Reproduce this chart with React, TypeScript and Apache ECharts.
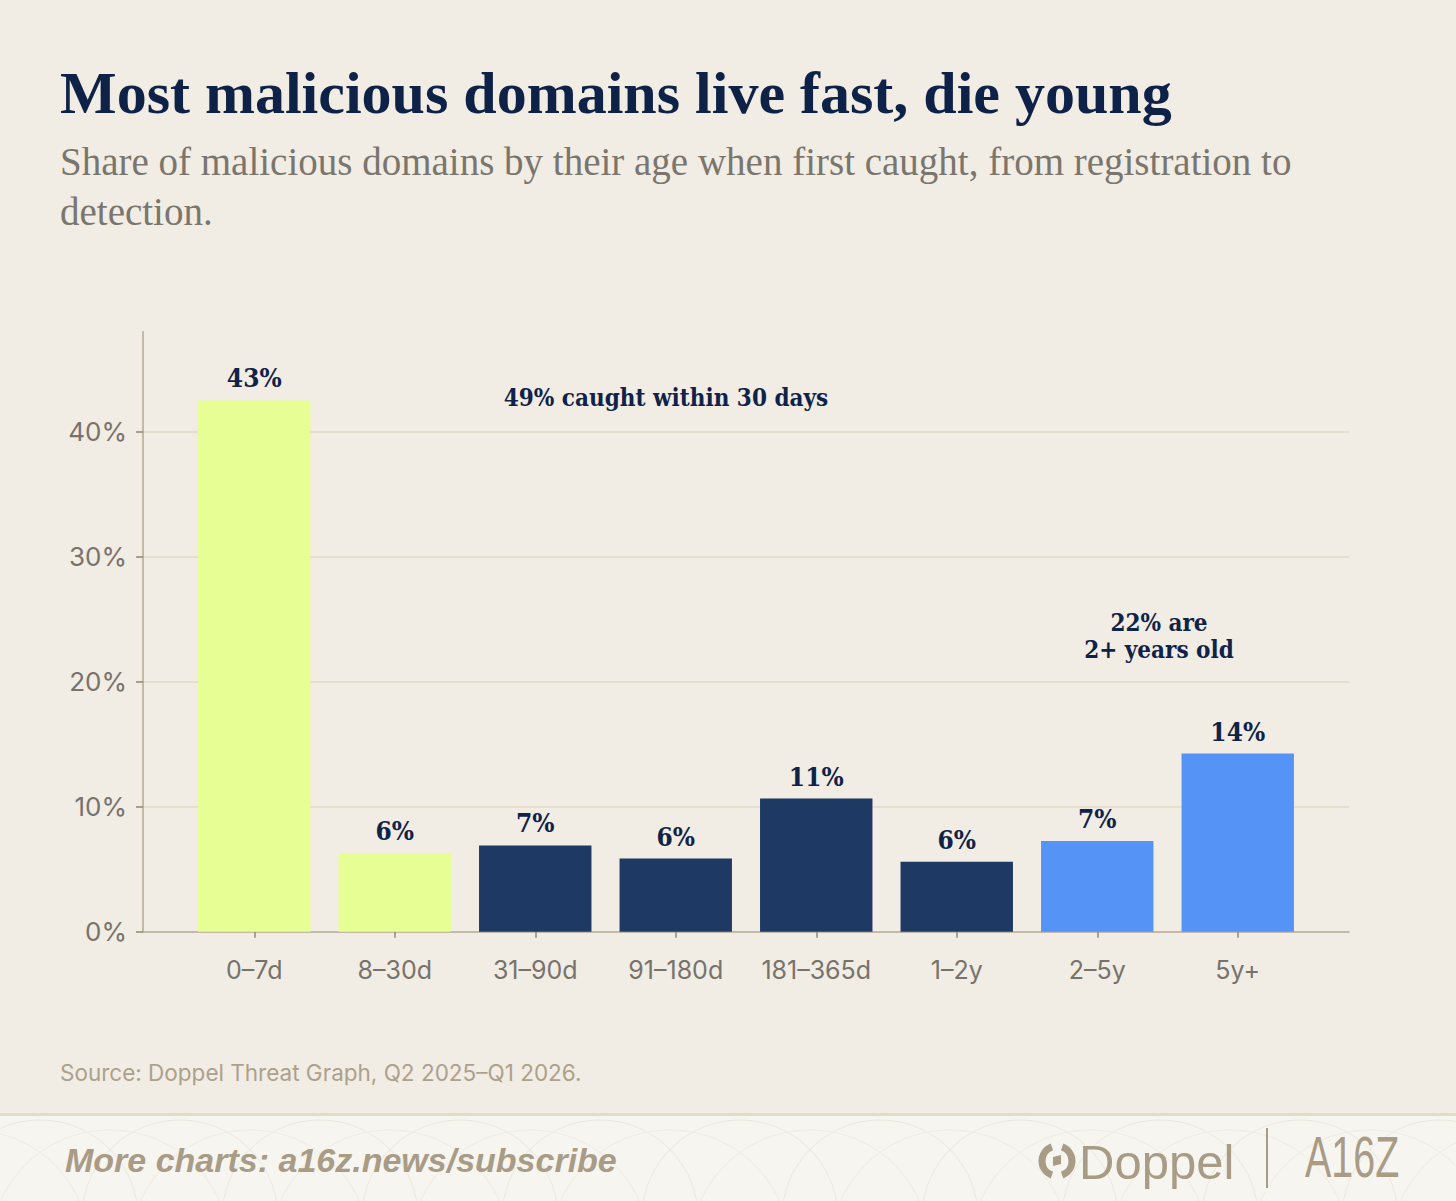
import React, { useEffect, useRef } from "react";
import * as echarts from "echarts";

const categories = ["0–7d", "8–30d", "31–90d", "91–180d", "181–365d", "1–2y", "2–5y", "5y+"];
const shares = [42.5, 6.3, 6.9, 5.85, 10.65, 5.6, 7.25, 14.25];
const shareLabels = ["43%", "6%", "7%", "6%", "11%", "6%", "7%", "14%"];
const ageGroups = ["recent", "recent", "mid", "mid", "mid", "mid", "old", "old"];
const yTicks = [0, 10, 20, 30, 40];

const titleText = "Most malicious domains live fast, die young";
const subtitleLines = [
  "Share of malicious domains by their age when first caught, from registration to",
  "detection.",
];
const sourceText = "Source: Doppel Threat Graph, Q2 2025–Q1 2026.";
const footerText = "More charts: a16z.news/subscribe";
const noteRecent = "49% caught within 30 days";
const noteOld = "22% are\n2+ years old";

const groupColors: Record<string, string> = {
  recent: "#e6fe93",
  mid: "#1e3963",
  old: "#5594f6",
};

const NAVY = "#0f2248";
const GREY = "#77736b";
const TAN = "#a89c86";
const LABEL_SERIF = '"DejaVu Serif Condensed", "DejaVu Serif", serif';

export default function App() {
  const ref = useRef<HTMLDivElement>(null);

  useEffect(() => {
    document.body.style.margin = "0";
    if (!ref.current) return;
    const chart = echarts.init(ref.current, undefined, { renderer: "svg" });

    const H = 1201;
    const zeroY = 931.7;
    const unit = 12.5;
    const bottom = H - zeroY;
    const yMax = 48;
    const topFull = zeroY - yMax * unit;
    const topTicks = zeroY - yTicks[yTicks.length - 1] * unit;

    const footerArcs: any[] = [];
    for (let i = -1; i < 12; i++) {
      footerArcs.push({
        type: "circle",
        shape: { cx: i * 140 + 40, cy: 1218, r: 98 },
        style: { fill: "none", stroke: "#ede8de", lineWidth: 1 },
        silent: true,
      });
      footerArcs.push({
        type: "circle",
        shape: { cx: i * 140 + 110, cy: 1250, r: 120 },
        style: { fill: "none", stroke: "#f0ece4", lineWidth: 1 },
        silent: true,
      });
    }

    const option: any = {
      animation: false,
      backgroundColor: "#f1ece4",
      grid: [
        { left: 143, right: 107, top: topFull, bottom },
        { left: 184, right: 148, top: topFull, bottom },
        { left: 143, right: 107, top: topTicks, bottom },
      ],
      xAxis: [
        {
          gridIndex: 0,
          type: "value",
          min: 0,
          max: 1,
          axisLine: { show: true, lineStyle: { color: "#b2a892", width: 1.5 } },
          axisTick: { show: false },
          axisLabel: { show: false },
          splitLine: { show: false },
        },
        {
          gridIndex: 1,
          type: "category",
          data: categories,
          axisLine: { show: false },
          axisTick: {
            show: true,
            alignWithLabel: true,
            interval: 0,
            length: 6,
            lineStyle: { color: "#8f8774", width: 1.5 },
          },
          axisLabel: {
            interval: 0,
            color: GREY,
            fontSize: 25,
            fontFamily: "Inter, sans-serif",
            margin: 26,
          },
        },
        { gridIndex: 2, type: "value", show: false, min: 0, max: 1 },
      ],
      yAxis: [
        {
          gridIndex: 0,
          type: "value",
          min: 0,
          max: yMax,
          axisLine: { show: true, lineStyle: { color: "#b2a892", width: 1.5 } },
          axisTick: { show: false },
          axisLabel: { show: false },
          splitLine: { show: false },
        },
        { gridIndex: 1, type: "value", min: 0, max: yMax, show: false },
        {
          gridIndex: 2,
          type: "value",
          min: yTicks[0],
          max: yTicks[yTicks.length - 1],
          interval: 10,
          axisLine: { show: false },
          axisTick: { show: true, length: 7, lineStyle: { color: "#8f8774", width: 1.5 } },
          axisLabel: {
            formatter: (v: number) => `${v}%`,
            color: GREY,
            fontSize: 26,
            fontFamily: "Inter, sans-serif",
            margin: 16,
          },
          splitLine: {
            show: true,
            showMinLine: false,
            lineStyle: { color: "#e2dac8", width: 1.5 },
          },
        },
      ],
      series: [
        {
          type: "bar",
          xAxisIndex: 1,
          yAxisIndex: 1,
          barCategoryGap: "20%",
          data: shares.map((v, i) => ({
            value: v,
            itemStyle: { color: groupColors[ageGroups[i]] },
          })),
          label: {
            show: true,
            position: "top",
            distance: 9,
            formatter: (p: any) => shareLabels[p.dataIndex],
            color: NAVY,
            fontSize: 26,
            fontWeight: "bold",
            fontFamily: LABEL_SERIF,
          },
        },
      ],
      graphic: [
        {
          type: "rect",
          shape: { x: 0, y: 1115, width: 1456, height: 86 },
          style: { fill: "#f7f5f0" },
          silent: true,
        },
        ...footerArcs,
        {
          type: "rect",
          shape: { x: 0, y: 1113, width: 1456, height: 3 },
          style: { fill: "#e3dbc9" },
          silent: true,
        },
        {
          type: "text",
          x: 60,
          y: 93,
          style: {
            text: titleText,
            fill: "#0e2247",
            font: 'bold 60px "Liberation Serif", serif',
            verticalAlign: "middle",
          },
        },
        {
          type: "text",
          x: 60,
          y: 161,
          style: {
            text: subtitleLines[0],
            fill: "#7a766e",
            font: '39px "Liberation Serif", serif',
            verticalAlign: "middle",
          },
        },
        {
          type: "text",
          x: 60,
          y: 211,
          style: {
            text: subtitleLines[1],
            fill: "#7a766e",
            font: '39px "Liberation Serif", serif',
            verticalAlign: "middle",
          },
        },
        {
          type: "text",
          x: 666,
          y: 397,
          style: {
            text: noteRecent,
            fill: NAVY,
            font: `bold 24px ${LABEL_SERIF}`,
            align: "center",
            verticalAlign: "middle",
          },
        },
        {
          type: "text",
          x: 1159,
          y: 636,
          style: {
            text: noteOld,
            fill: NAVY,
            font: `bold 24px ${LABEL_SERIF}`,
            align: "center",
            verticalAlign: "middle",
            lineHeight: 27,
          },
        },
        {
          type: "text",
          x: 60,
          y: 1072,
          style: {
            text: sourceText,
            fill: "#aca18c",
            font: "22.5px Inter, sans-serif",
            verticalAlign: "middle",
          },
        },
        {
          type: "text",
          x: 65,
          y: 1160,
          style: {
            text: footerText,
            fill: TAN,
            font: 'italic bold 34px "Liberation Sans", sans-serif',
            verticalAlign: "middle",
          },
        },
        // Doppel icon
        {
          type: "arc",
          shape: { cx: 1057, cy: 1161, r: 15, startAngle: (110 * Math.PI) / 180, endAngle: (250 * Math.PI) / 180, clockwise: true },
          style: { fill: "none", stroke: TAN, lineWidth: 7 },
        },
        {
          type: "arc",
          shape: { cx: 1057, cy: 1161, r: 15, startAngle: (290 * Math.PI) / 180, endAngle: (430 * Math.PI) / 180, clockwise: true },
          style: { fill: "none", stroke: TAN, lineWidth: 7 },
        },
        {
          type: "polygon",
          shape: { points: [[1053, 1157], [1061, 1155], [1061, 1164], [1053, 1166]] },
          style: { fill: TAN },
        },
        {
          type: "text",
          x: 1079,
          y: 1162,
          style: {
            text: "Doppel",
            fill: TAN,
            font: '49px "Liberation Sans", sans-serif',
            verticalAlign: "middle",
          },
        },
        {
          type: "rect",
          shape: { x: 1266, y: 1128, width: 2, height: 60 },
          style: { fill: TAN },
        },
        {
          type: "text",
          x: 1305,
          y: 1157,
          scaleX: 0.68,
          style: {
            text: "A16Z",
            fill: TAN,
            font: '58px "Liberation Sans", sans-serif',
            verticalAlign: "middle",
          },
        },
      ],
    };

    chart.setOption(option);
    return () => chart.dispose();
  }, []);

  return <div ref={ref} style={{ width: 1456, height: 1201 }} />;
}
